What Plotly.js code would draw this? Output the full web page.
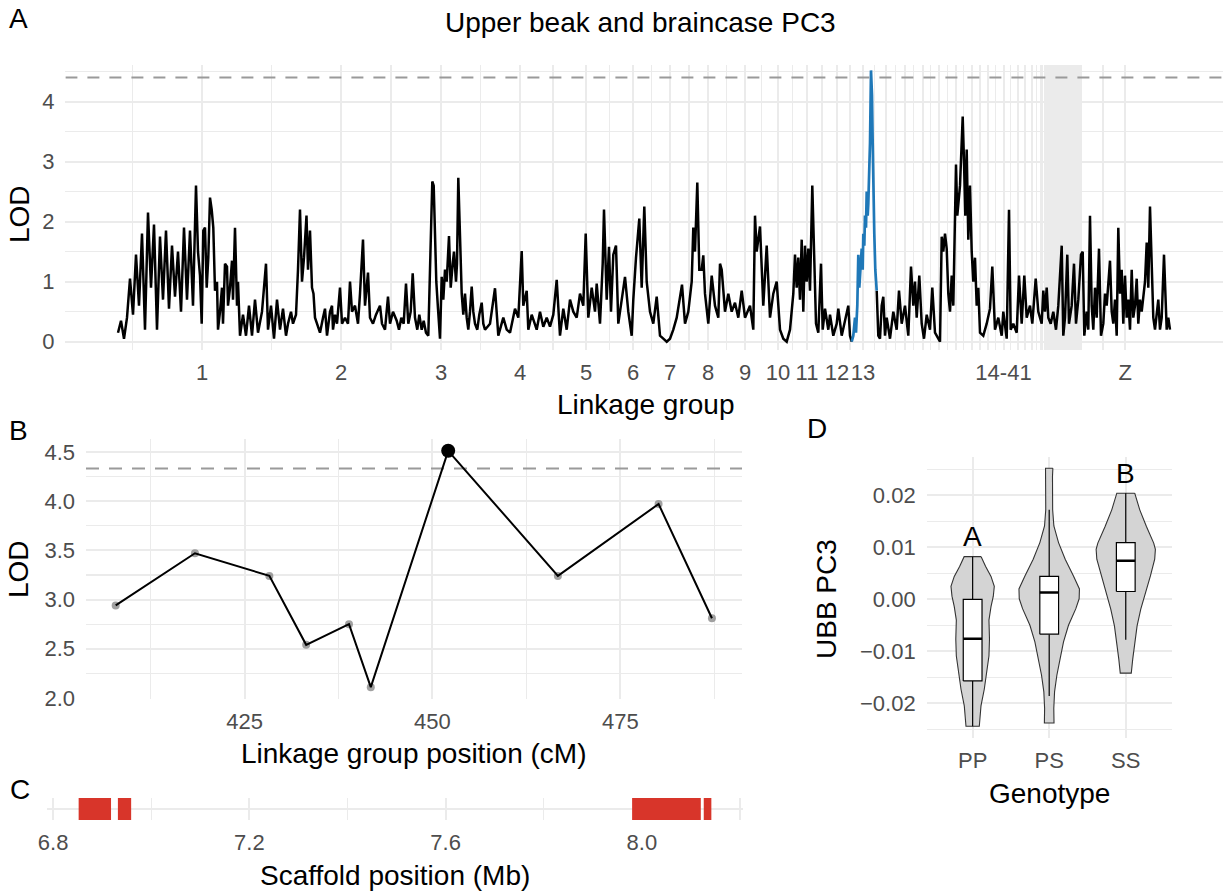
<!DOCTYPE html>
<html><head><meta charset="utf-8">
<script src="https://cdn.plot.ly/plotly-3.0.1.min.js"></script>
<style>html,body{margin:0;padding:0;background:#fff}#chart{width:1225px;height:894px}</style>
</head><body><div id="chart"></div>
<script>
// ---------------- Panel A: genome-wide scan ----------------
const lgNames = ['1','2','3','4','5','6','7','8','9','10','11','12','13',
  '14','15','16','17','18','19','20','21','22','23','24','25','26','27','28','29','30',
  '31','32','33','34','35','36','37','38','39','40','41','Z'];
const lgLengths = [168,110,90,68,64,30,44,32,42,24,34,26,26,
  20,18,17,16,17,16,16,15,14,14,4,3.5,3.2,3,2.8,2.6,2.5,2.4,2.3,2.2,2.1,2,1.9,1.8,1.7,1.6,1.4,1.2,88];
const mapStart = 118;
const microGroupLabel = '14-41';
const microLabelOn = '21';

const scanPos1to12 = [118,121,124,127,130,133,136,139,142,145,148,151,154,157,160,163,166,169,172,175,178,181,184,187,190,193,196,198,200,201.7,203.3,205,206.7,208.3,210,211.7,213.3,215,217,218,220,222,223,225,227,228,230,232,233,235,237,238,240,243,246,249,252,255,258,262,266,268,271,274,277,280,283,286,
 288,291,293,296,298,300,302,304,306.5,308,310,312,313.5,315,317,320,323,325,327,330,332,333,335,337,340,342,345,348,350,352,355,358,360,363,365,368,370,373,376,380,382,385,388,390,393,
 396.7,399,401.3,403.7,406,408.3,410.7,412.7,415,417.3,419.3,421.7,423.7,426,428.3,430,431,432.3,433.7,435,436.3,438,440,441.7,443.3,445,446.7,449,450.7,452.7,454,456,457,458.3,460,461.7,463.3,465,466.7,468.3,470,471.7,473.3,475,477.3,479.3,481.7,483.3,485,
 490,495,498.3,503.3,506.7,510,515,518.3,521.7,523.3,526.7,528.3,531.7,536.7,540,543.3,546.7,550,553.3,556.7,560,563.3,566.7,570,573.3,576.7,580,583.3,585.7,588.3,591.7,595,596.7,600,602.7,604,606.7,609,611,613.3,616,618.3,621.7,625,628.3,631.7,633.3,636,639.3,641.7,644.3,646.7,650,653.3,656.7,660,663.3,666.7,670,673.3,676.7,680,682,685,688.3,691.7,693.3,695,697.3,699.3,701.7,703.3,705,708.3,711.7,715,718.3,720,721.7,725,728.3,731.7,735,738.3,741.7,745,750,753.3,755,756.7,760,763.3,766.7,770,773.3,776.7,780,783.3,786.7,790,791.7,793.3,795,796.7,798.3,800,801.7,803.3,805,806.7,808.3,810,812.3,814,816,818.3,821,822.7,825,828.3,830,833.3,836.7,838.3,841.7,845,848.3,850,851.7];
const scanLod1to12 = [0.15,0.35,0.05,0.4,1.05,0.45,1.45,0.6,1.8,0.2,2.15,0.9,1.95,0.2,1.75,0.7,1.85,0.55,1.6,0.75,1.5,0.5,1.9,0.7,1.85,0.6,2.6,1.5,1.1,0.3,1.85,1.9,0.9,1.4,2.4,2.2,1.9,0.85,1.0,0.2,0.5,0.9,0.3,1.3,1.25,0.6,0.9,1.35,0.7,1.9,0.6,1.0,0.1,0.45,0.1,0.6,0.1,0.7,0.15,0.5,1.3,0.2,0.6,0.05,0.7,0.2,0.55,0.1,
 0.3,0.5,0.3,0.45,1.2,2.2,1.0,1.4,2.1,1.2,1.85,0.9,0.8,0.4,0.3,0.15,0.4,0.55,0.1,0.5,0.6,0.2,0.45,0.3,0.9,0.3,0.4,0.3,1.0,0.5,0.6,0.3,0.8,1.7,0.6,1.15,0.4,0.3,0.45,0.6,0.3,0.2,0.75,0.3,0.5,
 0.35,0.2,0.4,0.3,0.97,0.3,0.5,1.14,0.4,0.2,0.45,0.2,0.35,0.15,0.1,1.2,1.97,2.67,2.6,1.5,1.0,0.55,0.05,1.08,0.7,1.2,1.0,1.76,0.9,1.3,1.5,1.0,1.3,2.73,1.5,0.8,0.45,0.8,0.4,0.2,0.5,0.92,0.5,0.3,0.2,0.45,0.65,0.3,0.2,
 0.3,0.89,0.1,0.4,0.2,0.15,0.55,0.4,1.51,0.6,0.85,0.2,0.45,0.2,0.5,0.25,0.4,0.25,0.45,1.03,0.1,0.55,0.2,0.7,0.5,0.4,0.8,0.6,1.8,0.4,0.9,0.5,0.97,0.3,1.3,2.2,0.7,1.58,0.5,1.45,1.6,0.3,0.7,1.08,0.5,0.1,0.7,1.4,2.05,0.9,2.25,1.0,0.5,0.3,0.75,0.1,0.05,0.0,0.05,0.2,0.4,0.7,0.95,0.3,0.5,1.0,1.9,1.5,2.65,1.2,1.2,1.44,0.8,0.3,1.1,0.6,0.4,1.3,1.2,0.5,0.8,0.5,0.65,0.4,0.85,0.4,0.6,0.2,2.1,1.5,1.92,0.6,1.6,0.4,0.8,1.0,0.2,0.05,0.0,0.2,0.5,0.8,1.45,0.9,1.4,0.7,1.7,0.5,1.6,1.0,1.55,0.85,2.6,1.3,0.3,0.15,1.3,0.2,0.55,0.2,0.45,0.1,0.3,0.55,0.1,0.35,0.6,0.1,0.0];

const lg13Pos = [851.7,853.3,855,856,857.3,858.3,859.3,860.7,861.7,862.7,863.3,864.3,865,866,866.7,867.7,868.3,869.3,870,871,872,872.7,873.3,874.3,875.3,876.7];
const lg13Lod = [0.0,0.1,0.4,0.15,0.6,1.45,0.9,1.3,1.55,1.2,1.8,1.6,2.1,1.9,2.5,2.1,2.3,2.9,3.3,4.52,4.1,3.3,2.6,1.8,1.2,0.85];

const scanPos14toZ = [876.7,878.3,880,881.7,883.3,885,886.7,890,893.3,896.7,899,901.7,905,908.3,911,913.3,915,916.7,919.3,921.7,924,926.7,930,932.3,935,938.3,940,941.7,943.3,945,946.7,948.3,950,951.7,953.3,956,957.3,960,962.7,964,965.3,966.7,968.3,970,971.7,973.3,975,976.7,978.3,980,983.3,986.7,990,992.3,995,998.3,1001.7,1003.3,1006.7,1009,1010.7,1013.3,1016.7,1019,1021.7,1024.3,1026.7,1030,1032.3,1035.7,1038.3,1041.7,1043.3,1045,1046.7,1048.3,1050.7,1053.3,1056,1058.3,1061.7,1063.3,1065,1067.3,1069,1071.7,1074,1076,1078.3,1081,1082.7,1084.3,1086.7,1088.3,1090,1091.7,1093.3,1095,1096.7,1099,1101,1103.3,1105,1106.7,1108.3,1110,1111.7,1113.3,1115,1116.7,1118.3,1120,1121.7,1123.3,1125,1126.7,1128.3,1130,1131.7,1133.3,1135,1136.7,1138.3,1140,1141.7,1143.3,1145,1146.7,1148.3,1150,1151.7,1153.3,1155,1156.7,1158.3,1160,1161.7,1164,1165.7,1166.7,1168.3,1170];
const scanLod14toZ = [0.85,0.1,0.05,0.6,0.75,0.1,0.4,0.05,0.5,0.2,0.85,0.3,0.6,0.1,1.25,0.6,1.0,0.4,1.1,0.3,0.05,0.45,0.2,0.9,0.15,0.05,0.0,1.75,1.5,1.8,1.55,0.8,0.5,1.1,0.6,2.95,2.1,2.6,3.75,3.0,2.1,3.2,1.7,2.6,1.5,1.0,1.4,0.6,0.9,0.15,0.1,0.3,0.55,1.25,0.2,0.4,0.1,0.5,0.05,2.2,0.2,0.3,0.15,1.1,0.3,1.1,0.4,0.6,0.3,1.05,0.5,0.3,0.85,0.5,0.9,0.4,0.3,0.5,0.2,0.6,1.6,0.1,0.4,1.45,0.3,0.6,1.3,0.3,0.7,1.45,1.5,0.1,0.5,0.2,2.1,0.6,0.2,0.9,0.4,1.55,0.1,0.3,0.8,0.6,0.9,1.35,0.5,0.3,0.7,0.1,1.9,0.8,1.2,0.3,1.1,0.4,0.7,0.2,1.2,0.4,0.6,1.05,0.3,0.7,0.5,0.8,1.0,1.65,0.9,2.25,1.35,0.4,0.2,0.5,0.7,0.2,0.4,1.45,0.6,0.2,0.4,0.2];

const genomeThreshold = 4.4;

// ---------------- Panel B: linkage group 13 detail ----------------
const lgPosCM = [407.85,418.4,428.3,433.2,438.9,441.8,452.1,466.7,480.1,487.2];
const lgPosLod = [2.94,3.47,3.24,2.54,2.75,2.11,4.51,3.24,3.97,2.81];
const lgThreshold = 4.33;

// ---------------- Panel C: scaffold features ----------------
const featStartMb = [6.852,6.932,7.980,8.126];
const featEndMb   = [6.918,6.959,8.120,8.1415];

// ---------------- Panel D: genotype effects ----------------
const genotypes = ['PP','PS','SS'];
const sigLetters = ['A','AB','B'];
const boxLower = [-0.0244,-0.0186,-0.0078];
const boxQ1 = [-0.0157,-0.0067,0.0015];
const boxMedian = [-0.0076,0.0013,0.0074];
const boxQ3 = [0.0000,0.0044,0.0109];
const boxUpper = [0.0082,0.0172,0.0204];
const ppViolinY = [0.0082,0.0063,0.0044,0.0025,0.0006,-0.0014,-0.004,-0.0077,-0.0109,-0.0141,-0.0173,-0.0205,-0.0244];
const ppViolinW = [0.111,0.17,0.24,0.283,0.27,0.24,0.213,0.22,0.213,0.187,0.152,0.109,0.087];
const psViolinY = [0.0252,0.0236,0.0172,0.0141,0.0109,0.0077,0.0045,0.002,0.0001,-0.0018,-0.005,-0.0082,-0.0114,-0.0146,-0.0178,-0.021,-0.0238];
const psViolinW = [0.048,0.043,0.045,0.061,0.122,0.209,0.317,0.395,0.391,0.348,0.252,0.187,0.143,0.1,0.07,0.06,0.063];
const ssViolinY = [0.0204,0.0172,0.014,0.0108,0.0096,0.0077,0.0045,0.0013,-0.0019,-0.0051,-0.0083,-0.0115,-0.0142];
const ssViolinW = [0.117,0.183,0.27,0.365,0.387,0.378,0.322,0.256,0.196,0.148,0.117,0.091,0.072];

// ---------------- build ----------------
const W = 1225, H = 894;
const fx = p => p / W;
const fy = p => 1 - p / H;
const FONT = 'Liberation Sans, Arial, Helvetica, sans-serif';
const GRID = '#EBEBEB';
const TICKC = '#4D4D4D';

const lgStart = [], lgMid = [];
let acc = mapStart;
lgLengths.forEach(l => { lgStart.push(acc); lgMid.push(acc + l / 2); acc += l; });
const macro = n => !(+n >= 14 && +n <= 41);
const lgTickText = lgNames.map(n => macro(n) ? n : (n === microLabelOn ? microGroupLabel : ''));
const lgMinor = [lgMid[0] - (lgMid[1] - lgMid[0]) / 2];
for (let i = 0; i < lgMid.length - 1; i++) lgMinor.push((lgMid[i] + lgMid[i + 1]) / 2);

const traces = [];
traces.push({x: scanPos1to12, y: scanLod1to12, xaxis: 'x', yaxis: 'y', mode: 'lines', line: {color: '#000', width: 2.5}, hoverinfo: 'skip'});
traces.push({x: scanPos14toZ, y: scanLod14toZ, xaxis: 'x', yaxis: 'y', mode: 'lines', line: {color: '#000', width: 2.5}, hoverinfo: 'skip'});
traces.push({x: lg13Pos, y: lg13Lod, xaxis: 'x', yaxis: 'y', mode: 'lines', line: {color: '#1F78B8', width: 2.7}, hoverinfo: 'skip'});
// threshold lines drawn as data lines across the full axis ranges
const xRangeA = [65.4, 1222.6], xRangeB = [403.9, 491.2];
traces.push({x: xRangeA, y: [genomeThreshold, genomeThreshold], xaxis: 'x', yaxis: 'y', mode: 'lines', line: {color: '#9A9A9A', width: 2, dash: '12px,10px'}, hoverinfo: 'skip'});

// Panel B
traces.push({x: xRangeB, y: [lgThreshold, lgThreshold], xaxis: 'x2', yaxis: 'y2', mode: 'lines', line: {color: '#9A9A9A', width: 2, dash: '13px,10px'}, hoverinfo: 'skip'});
traces.push({x: lgPosCM, y: lgPosLod, xaxis: 'x2', yaxis: 'y2', mode: 'markers', marker: {color: 'rgba(130,130,130,0.75)', size: 8}, hoverinfo: 'skip'});
traces.push({x: lgPosCM, y: lgPosLod, xaxis: 'x2', yaxis: 'y2', mode: 'lines', line: {color: '#000', width: 2}, hoverinfo: 'skip'});
const iMax = lgPosLod.indexOf(Math.max(...lgPosLod));
traces.push({x: [lgPosCM[iMax]], y: [lgPosLod[iMax]], xaxis: 'x2', yaxis: 'y2', mode: 'markers', marker: {color: '#000', size: 14}, hoverinfo: 'skip'});

// Panel C
const rx = [], ry = [];
featStartMb.forEach((s, i) => { rx.push(s, featEndMb[i], featEndMb[i], s, s, null); ry.push(0, 0, 1, 1, 0, null); });
traces.push({x: rx, y: ry, xaxis: 'x3', yaxis: 'y3', mode: 'lines', fill: 'toself', fillcolor: '#D8352A', line: {width: 0, color: '#D8352A'}, hoverinfo: 'skip'});

// Panel D violins
function violin(c, ys, ws) {
  const x = [], y = [];
  ys.forEach((v, i) => { x.push(c + ws[i]); y.push(v); });
  for (let i = ys.length - 1; i >= 0; i--) { x.push(c - ws[i]); y.push(ys[i]); }
  x.push(x[0]); y.push(y[0]);
  return {x, y, xaxis: 'x4', yaxis: 'y4', mode: 'lines', fill: 'toself', fillcolor: '#D4D4D4', line: {color: '#333', width: 1.1}, hoverinfo: 'skip'};
}
traces.push(violin(1, ppViolinY, ppViolinW));
traces.push(violin(2, psViolinY, psViolinW));
traces.push(violin(3, ssViolinY, ssViolinW));

const BOXW = 0.245;
const wx = [], wy = [], bx = [], by = [], mx = [], my = [];
genotypes.forEach((g, i) => {
  const c = i + 1, l = c - BOXW / 2, r = c + BOXW / 2;
  wx.push(c, c, null, c, c, null); wy.push(boxLower[i], boxQ1[i], null, boxQ3[i], boxUpper[i], null);
  bx.push(l, r, r, l, l, null); by.push(boxQ1[i], boxQ1[i], boxQ3[i], boxQ3[i], boxQ1[i], null);
  mx.push(l, r, null); my.push(boxMedian[i], boxMedian[i], null);
});
traces.push({x: wx, y: wy, xaxis: 'x4', yaxis: 'y4', mode: 'lines', line: {color: '#000', width: 1.2}, hoverinfo: 'skip'});
traces.push({x: bx, y: by, xaxis: 'x4', yaxis: 'y4', mode: 'lines', fill: 'toself', fillcolor: '#fff', line: {color: '#000', width: 1.2}, hoverinfo: 'skip'});
traces.push({x: mx, y: my, xaxis: 'x4', yaxis: 'y4', mode: 'lines', line: {color: '#000', width: 2.6}, hoverinfo: 'skip'});

const tickfont = {family: FONT, size: 22, color: TICKC};
const minorGrid = vals => ({tickmode: 'array', tickvals: vals, showgrid: true, gridcolor: GRID, gridwidth: 1.2, ticks: ''});
const base = {showline: false, zeroline: false, ticks: '', gridcolor: GRID, gridwidth: 2, tickfont: tickfont, fixedrange: true, tickangle: 0};
const seq = (a, b, s) => { const r = []; for (let v = a; v <= b + 1e-9; v += s) r.push(+v.toFixed(6)); return r; };

const layout = {
  width: W, height: H, margin: {l: 0, r: 0, t: 0, b: 0}, paper_bgcolor: '#fff', plot_bgcolor: 'rgba(0,0,0,0)',
  showlegend: false, font: {family: FONT, color: '#000'},
  xaxis: Object.assign({}, base, {domain: [fx(65.4), fx(1222.6)], range: xRangeA, anchor: 'y',
    tickmode: 'array', tickvals: lgMid, ticktext: lgTickText, minor: minorGrid(lgMinor), ticklabelstandoff: 7}),
  yaxis: Object.assign({}, base, {domain: [fy(349.5), fy(65)], range: [-0.13, 4.61], anchor: 'x',
    tickmode: 'array', tickvals: [0, 1, 2, 3, 4], minor: minorGrid([0.5, 1.5, 2.5, 3.5, 4.5]), ticklabelstandoff: 10}),
  xaxis2: Object.assign({}, base, {domain: [fx(86), fx(742)], range: xRangeB, anchor: 'y2',
    tickmode: 'array', tickvals: [425, 450, 475], minor: minorGrid([412.5, 437.5, 462.5, 487.5]), ticklabelstandoff: 7}),
  yaxis2: Object.assign({}, base, {domain: [fy(699), fy(439)], range: [1.99, 4.63], anchor: 'x2',
    tickmode: 'array', tickvals: seq(2, 4.5, 0.5), tickformat: '.1f', minor: minorGrid(seq(2.25, 4.5, 0.5)), ticklabelstandoff: 10}),
  xaxis3: Object.assign({}, base, {domain: [fx(47), fx(743)], range: [6.7875, 8.206], anchor: 'y3',
    tickmode: 'array', tickvals: [6.8, 7.2, 7.6, 8.0], tickformat: '.1f', minor: minorGrid([7.0, 7.4, 7.8, 8.2]), ticklabelstandoff: 7}),
  yaxis3: Object.assign({}, base, {domain: [fy(820), fy(798)], range: [0, 1], anchor: 'x3',
    tickmode: 'array', tickvals: [0.5], showticklabels: false}),
  xaxis4: Object.assign({}, base, {domain: [fx(926.7), fx(1171.7)], range: [0.4, 3.6], anchor: 'y4',
    tickmode: 'array', tickvals: [1, 2, 3], ticktext: genotypes, ticklabelstandoff: 7}),
  yaxis4: Object.assign({}, base, {domain: [fy(738), fy(456.7)], range: [-0.02667, 0.02742], anchor: 'x4',
    tickmode: 'array', tickvals: [-0.02, -0.01, 0, 0.01, 0.02], tickformat: '.2f', minor: minorGrid([-0.025, -0.015, -0.005, 0.005, 0.015, 0.025]), ticklabelstandoff: 10}),
  annotations: []
};

const ann = (text, px, py, size, extra) => Object.assign({text, x: fx(px), y: fy(py), xref: 'paper', yref: 'paper', showarrow: false,
  xanchor: 'center', yanchor: 'middle', font: {family: FONT, size, color: '#000'}}, extra || {});
layout.annotations.push(
  ann('Upper beak and braincase PC3', 641, 22, 28),
  ann('A', 18, 19, 28), ann('B', 18, 431, 28), ann('C', 20, 789, 28), ann('D', 817, 428, 28),
  ann('LOD', 19, 214, 28, {textangle: -90}),
  ann('Linkage group', 645, 405, 28),
  ann('LOD', 18, 569, 28, {textangle: -90}),
  ann('Linkage group position (cM)', 414, 753, 28),
  ann('Scaffold position (Mb)', 395, 875, 28),
  ann('UBB PC3', 826, 599, 28, {textangle: -90}),
  ann('Genotype', 1049, 793, 28)
);
const violinTops = [ppViolinY[0], psViolinY[0], ssViolinY[0]];
sigLetters.forEach((s, i) => layout.annotations.push({text: s, x: i + 1, y: violinTops[i] + 0.0038,
  xref: 'x4', yref: 'y4', showarrow: false, xanchor: 'center', yanchor: 'middle', font: {family: FONT, size: 28, color: '#000'}}));

Plotly.newPlot('chart', traces, layout, {displayModeBar: false, staticPlot: true});
</script>
</body></html>
